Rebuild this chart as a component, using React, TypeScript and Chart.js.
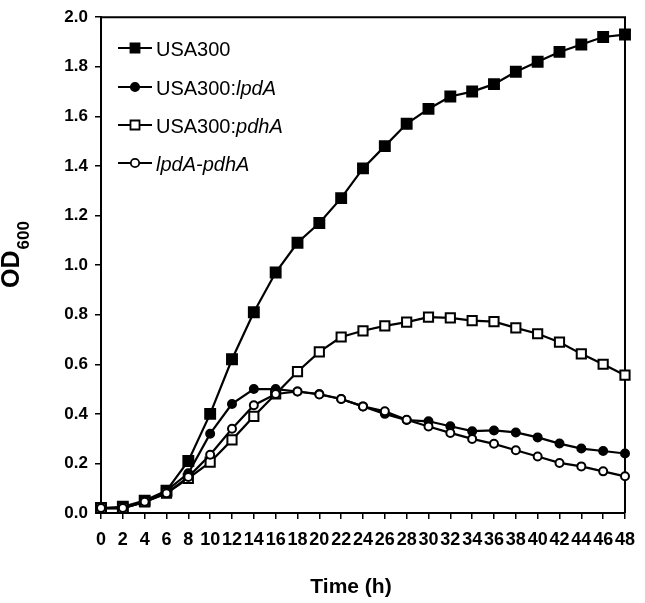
import React, { useEffect, useRef } from 'react';
import { Chart, registerables } from 'chart.js';

Chart.register(...registerables);

const FONT = '"Liberation Sans", Arial, Helvetica, sans-serif';

// Time (h)
const times = [0, 2, 4, 6, 8, 10, 12, 14, 16, 18, 20, 22, 24, 26, 28, 30, 32, 34, 36, 38, 40, 42, 44, 46, 48];

// OD600 values
const usa300 = [0.02, 0.025, 0.05, 0.09, 0.21, 0.40, 0.62, 0.81, 0.97, 1.09, 1.17, 1.27, 1.39, 1.48, 1.57, 1.63, 1.68, 1.70, 1.73, 1.78, 1.82, 1.86, 1.89, 1.92, 1.93];
const usa300lpdA = [0.02, 0.02, 0.045, 0.09, 0.16, 0.32, 0.44, 0.50, 0.50, 0.49, 0.48, 0.46, 0.43, 0.40, 0.375, 0.37, 0.35, 0.33, 0.333, 0.325, 0.305, 0.28, 0.26, 0.25, 0.24];
const usa300pdhA = [0.02, 0.02, 0.045, 0.08, 0.14, 0.205, 0.295, 0.39, 0.48, 0.57, 0.65, 0.71, 0.735, 0.755, 0.77, 0.79, 0.787, 0.776, 0.772, 0.747, 0.723, 0.689, 0.642, 0.60, 0.556];
const lpdApdhA = [0.02, 0.02, 0.045, 0.08, 0.145, 0.235, 0.34, 0.435, 0.48, 0.49, 0.478, 0.46, 0.43, 0.41, 0.376, 0.349, 0.323, 0.299, 0.279, 0.253, 0.228, 0.202, 0.188, 0.168, 0.148];

const yMin = 0;
const yMax = 2;
const yStep = 0.2;
const xMin = 0;
const xMax = 48;
const xStep = 2;

const xTitle = 'Time (h)';
const yTitleMain = 'OD';
const yTitleSub = '600';

// legend entries: parts [text, italic]
const legendEntries: { parts: [string, boolean][]; style: string; filled: boolean }[] = [
  { parts: [['USA300', false]], style: 'rect', filled: true },
  { parts: [['USA300:', false], ['lpdA', true]], style: 'circle', filled: true },
  { parts: [['USA300:', false], ['pdhA', true]], style: 'rect', filled: false },
  { parts: [['lpdA-pdhA', true]], style: 'circle', filled: false },
];

const framePlugin = {
  id: 'frame',
  beforeDatasetsDraw(chart: any) {
    const { ctx, chartArea } = chart;
    ctx.save();
    ctx.strokeStyle = '#000';
    ctx.lineWidth = 2;
    ctx.beginPath();
    ctx.moveTo(chartArea.left, chartArea.top);
    ctx.lineTo(chartArea.right, chartArea.top);
    ctx.lineTo(chartArea.right, chartArea.bottom);
    ctx.stroke();
    ctx.restore();
  },
};

const titlesPlugin = {
  id: 'titles',
  afterDraw(chart: any) {
    const { ctx } = chart;
    ctx.save();
    ctx.fillStyle = '#000';
    // x title
    ctx.font = `bold 21px ${FONT}`;
    ctx.textAlign = 'center';
    ctx.textBaseline = 'alphabetic';
    ctx.fillText(xTitle, 351, 593);
    // y title rotated
    ctx.translate(0, 288);
    ctx.rotate(-Math.PI / 2);
    ctx.textAlign = 'left';
    ctx.font = `bold 25px ${FONT}`;
    ctx.fillText(yTitleMain, 0, 19);
    const w = ctx.measureText(yTitleMain).width;
    ctx.font = `bold 17px ${FONT}`;
    ctx.fillText(yTitleSub, w + 1, 29);
    ctx.restore();
  },
};

const legendPlugin = {
  id: 'customLegend',
  afterDraw(chart: any) {
    const { ctx } = chart;
    const rows = [48, 87, 125, 163];
    ctx.save();
    legendEntries.forEach((e, i) => {
      const y = rows[i];
      ctx.strokeStyle = '#000';
      ctx.lineWidth = 2;
      ctx.beginPath();
      ctx.moveTo(118, y);
      ctx.lineTo(152, y);
      ctx.stroke();
      ctx.fillStyle = e.filled ? '#000' : '#fff';
      ctx.lineWidth = 1.8;
      ctx.beginPath();
      if (e.style === 'rect') {
        ctx.rect(135 - 4.5, y - 4.5, 9, 9);
      } else {
        ctx.arc(135, y, 4.2, 0, Math.PI * 2);
      }
      ctx.fill();
      ctx.stroke();
      let x = 156;
      ctx.fillStyle = '#000';
      ctx.textBaseline = 'alphabetic';
      ctx.textAlign = 'left';
      e.parts.forEach(([t, it]) => {
        ctx.font = `${it ? 'italic ' : ''}20px ${FONT}`;
        ctx.fillText(t, x, y + 7.5);
        x += ctx.measureText(t).width;
      });
    });
    ctx.restore();
  },
};

function makeDataset(label: string, values: number[], style: string, filled: boolean, radius: number, order: number) {
  return {
    label,
    data: times.map((t, i) => ({ x: t, y: values[i] })),
    borderColor: '#000',
    borderWidth: 2.2,
    pointStyle: style,
    pointRadius: radius,
    pointBackgroundColor: filled ? '#000' : '#fff',
    pointBorderColor: '#000',
    pointBorderWidth: 2,
    tension: 0,
    fill: false,
    clip: false,
    order,
  };
}

export default function App() {
  const ref = useRef<HTMLCanvasElement>(null);
  useEffect(() => {
    if (!ref.current) return;
    const xFont = { family: FONT, size: 18, weight: 'bold' as const };
    const yFont = { family: FONT, size: 17, weight: 'bold' as const };
    const chart = new Chart(ref.current, {
      type: 'line',
      data: {
        datasets: [
          makeDataset('lpdA-pdhA', lpdApdhA, 'circle', false, 4, 0),
          makeDataset('USA300:pdhA', usa300pdhA, 'rect', false, 6.5, 1),
          makeDataset('USA300:lpdA', usa300lpdA, 'circle', true, 4, 2),
          makeDataset('USA300', usa300, 'rect', true, 7, 3),
        ] as any,
      },
      options: {
        animation: false,
        responsive: false,
        devicePixelRatio: 1,
        layout: { padding: { top: 14, right: 18, left: 0, bottom: 0 } },
        plugins: { legend: { display: false }, tooltip: { enabled: false } },
        scales: {
          x: {
            type: 'linear',
            min: xMin,
            max: xMax,
            afterFit: (s: any) => { s.height = 90; },
            ticks: { stepSize: xStep, autoSkip: false, maxRotation: 0, color: '#000', font: xFont, padding: 10 },
            grid: { drawOnChartArea: false, drawTicks: true, tickLength: 6, color: '#000', lineWidth: 1.5 },
            border: { color: '#000', width: 2 },
          },
          y: {
            min: yMin,
            max: yMax,
            afterFit: (s: any) => { s.width = 101; },
            ticks: { stepSize: yStep, color: '#000', font: yFont, padding: 7, callback: (v: any) => Number(v).toFixed(1) },
            grid: { drawOnChartArea: false, drawTicks: true, tickLength: 6, color: '#000', lineWidth: 1.5 },
            border: { color: '#000', width: 2 },
          },
        },
      } as any,
      plugins: [framePlugin, titlesPlugin, legendPlugin],
    });
    return () => chart.destroy();
  }, []);
  return (
    <div style={{ position: 'absolute', left: 0, top: 0, width: 645, height: 603, background: '#fff' }}>
      <canvas ref={ref} width={645} height={603} style={{ display: 'block' }} />
    </div>
  );
}
